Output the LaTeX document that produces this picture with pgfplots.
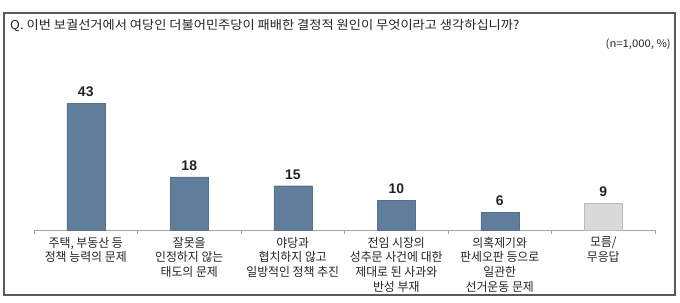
\documentclass[border=0pt]{standalone}
\usepackage{fontspec}
\setmainfont{Noto Sans CJK KR}
\newfontfamily\titlefont{Noto Sans CJK KR}[FakeStretch=1.08]
\newfontfamily\labfont{Noto Sans CJK KR}[FakeStretch=0.97]
\newfontfamily\numfont{Liberation Sans}
\usepackage{pgfplots}
\pgfplotsset{compat=1.18}
\definecolor{barblue}{RGB}{96,125,155}
\definecolor{bargray}{RGB}{217,217,217}
\definecolor{bargrayedge}{RGB}{185,185,185}
\definecolor{axisgray}{RGB}{165,165,165}
\definecolor{framegray}{RGB}{90,90,90}
\definecolor{txt}{RGB}{35,35,35}
\begin{document}
\begin{tikzpicture}[x=1bp,y=1bp]
\useasboundingbox (0,0) rectangle (680,302);
\draw[framegray, line width=1.2bp] (4,7) rectangle (675,289);
\node[anchor=west, inner sep=0pt, text=txt, font=\titlefont\fontsize{12.3}{14}\selectfont] at (10,276.5) {Q. 이번 보궐선거에서 여당인 더불어민주당이 패배한 결정적 원인이 무엇이라고 생각하십니까?};
\node[anchor=east, inner sep=0pt, text=txt, font=\titlefont\fontsize{10.5}{12}\selectfont] at (671,257.5) {(n=1,000, \%)};
\begin{axis}[
  at={(34bp,72bp)}, anchor=south west,
  scale only axis, width=621bp, height=170bp,
  xmin=-0.5, xmax=5.5, ymin=0, ymax=57.6,
  axis y line=none, axis x line*=bottom,
  x axis line style={axisgray, line width=0.8bp},
  xtick={0,1,2,3,4,5},
  xticklabels={{주택, 부동산 등\\정책 능력의 문제},{잘못을\\인정하지 않는\\태도의 문제},{야당과\\협치하지 않고\\일방적인 정책 추진},{전임 시장의\\성추문 사건에 대한\\제대로 된 사과와\\반성 부재},{의혹제기와\\판세오판 등으로\\일관한\\선거운동 문제},{모름/\\무응답}},
  major tick length=0pt,
  extra x ticks={-0.5,0.5,1.5,2.5,3.5,4.5,5.5},
  extra x tick labels={},
  extra x tick style={major tick length=4bp, tick align=outside, tick style={axisgray, line width=0.8bp}},
  xticklabel style={font=\labfont\fontsize{12.3}{14.7}\selectfont, align=center, anchor=north, text=txt, yshift=-3.5bp},
  /pgf/number format/assume math mode=true,
  clip=false,
]
\addplot[ybar, bar width=38bp, bar shift=0pt, fill=barblue, draw=barblue!90!black, line width=0.3bp,
  nodes near coords, nodes near coords style={font=\numfont\bfseries\fontsize{14}{16}\selectfont, text=txt, yshift=3bp}]
  coordinates {(0,43) (1,18) (2,15) (3,10) (4,6)};
\addplot[ybar, bar width=38bp, bar shift=0pt, fill=bargray, draw=bargrayedge, line width=0.8bp,
  nodes near coords, nodes near coords style={font=\numfont\bfseries\fontsize{14}{16}\selectfont, text=txt, yshift=3bp}]
  coordinates {(5,9)};
\end{axis}
\end{tikzpicture}
\end{document}
